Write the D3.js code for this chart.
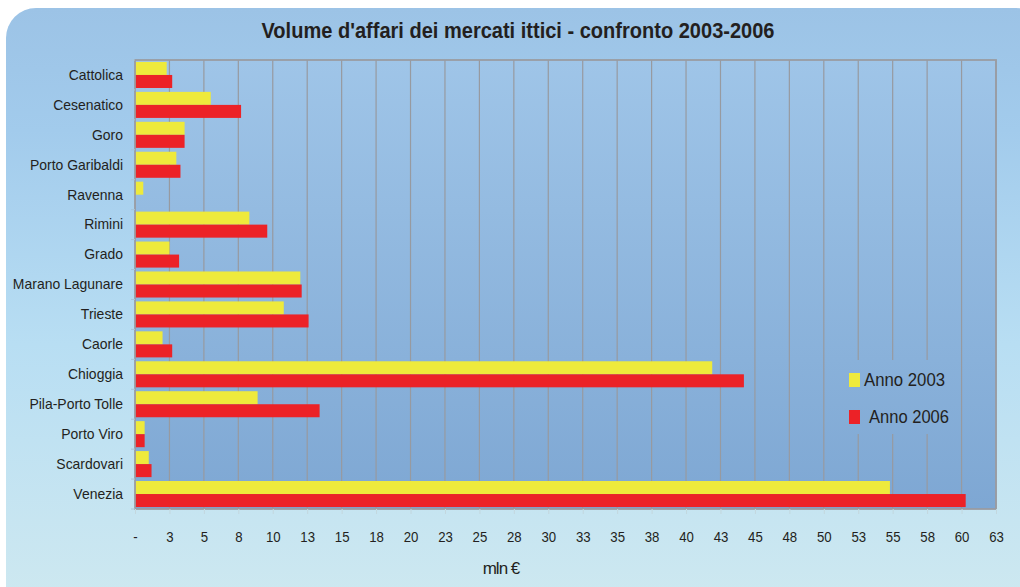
<!DOCTYPE html>
<html><head><meta charset="utf-8">
<script src="https://cdn.jsdelivr.net/npm/d3@7"></script>
<style>body{margin:0;background:#fff}svg{display:block}</style>
</head><body>
<svg id="c" width="1020" height="587"></svg>
<script>
const categories = ["Cattolica","Cesenatico","Goro","Porto Garibaldi","Ravenna","Rimini","Grado","Marano Lagunare","Trieste","Caorle","Chioggia","Pila-Porto Tolle","Porto Viro","Scardovari","Venezia"];
const anno2003 = [2.3,5.5,3.6,3.0,0.6,8.3,2.5,12.0,10.8,2.0,41.9,8.9,0.7,1.0,54.8];
const anno2006 = [2.7,7.7,3.6,3.3,0,9.6,3.2,12.1,12.6,2.7,44.2,13.4,0.7,1.2,60.3];
const seriesNames = ["Anno 2003","Anno 2006"];
const tickValues = d3.range(0, 62.6, 2.5);
const tickLabels = ["-","3","5","8","10","13","15","18","20","23","25","28","30","33","35","38","40","43","45","48","50","53","55","58","60","63"];

const colors = ["#eeea3c","#ec2227"];
const FONT = "'Liberation Sans',Arial,sans-serif";

// condense helper: squeeze text horizontally
function condense(sel, f) {
  sel.each(function(){
    const L = this.getComputedTextLength();
    d3.select(this).attr("textLength", L*f).attr("lengthAdjust","spacingAndGlyphs");
  });
}

const svg = d3.select("#c");
const defs = svg.append("defs");
const pg = defs.append("linearGradient").attr("id","panelG").attr("x1",0).attr("y1",0).attr("x2",0).attr("y2",1);
pg.append("stop").attr("offset",0).attr("stop-color","#9cc3e6");
pg.append("stop").attr("offset",0.2).attr("stop-color","#a2cbec");
pg.append("stop").attr("offset",0.55).attr("stop-color","#b8def3");
pg.append("stop").attr("offset",1).attr("stop-color","#cfe9f0");
const ag = defs.append("linearGradient").attr("id","plotG").attr("gradientUnits","userSpaceOnUse")
  .attr("x1",0).attr("y1",60).attr("x2",0).attr("y2",509);
ag.append("stop").attr("offset",0).attr("stop-color","#9fc5e8");
ag.append("stop").attr("offset",1).attr("stop-color","#7ea7d3");

// panel
svg.append("rect").attr("x",6).attr("y",8).attr("width",1040).attr("height",610)
  .attr("rx",30).attr("ry",30).attr("fill","url(#panelG)");

const m = {left:135, right:996, top:60, bottom:509};
const x = d3.scaleLinear().domain([0,62.5]).range([m.left, m.right]);
const y = d3.scaleBand().domain(categories).range([m.top, m.bottom]).paddingInner(0.13).paddingOuter(0.065);
const y2 = d3.scaleBand().domain(seriesNames).range([0, y.bandwidth()]);

// plot bg
svg.append("rect").attr("x",m.left).attr("y",m.top).attr("width",m.right-m.left).attr("height",m.bottom-m.top)
  .attr("fill","url(#plotG)");

// gridlines
svg.append("g").selectAll("line").data(tickValues.slice(1)).join("line")
  .attr("x1",d=>x(d)).attr("x2",d=>x(d)).attr("y1",m.top).attr("y2",m.bottom)
  .attr("stroke","#979aa0").attr("stroke-width",1.2);

// legend box hiding gridlines
svg.append("rect").attr("x",836).attr("y",360).attr("width",118).attr("height",74).attr("fill","url(#plotG)");

// bars
const g = svg.append("g");
categories.forEach((c,i)=>{
  [anno2003[i], anno2006[i]].forEach((v,j)=>{
    if (v <= 0) return;
    g.append("rect").attr("x",x(0)).attr("y",y(c)+y2(seriesNames[j]))
      .attr("width",x(v)-x(0)).attr("height",y2.bandwidth()).attr("fill",colors[j]);
  });
});

// plot border
svg.append("rect").attr("x",m.left).attr("y",m.top).attr("width",m.right-m.left).attr("height",m.bottom-m.top)
  .attr("fill","none").attr("stroke","#9a9ca2").attr("stroke-width",1.8);

// x axis
const xAxis = d3.axisBottom(x).tickValues(tickValues).tickFormat((d,i)=>tickLabels[i]).tickSize(5).tickPadding(17);
const xa = svg.append("g").attr("transform",`translate(0,${m.bottom})`).call(xAxis);
xa.select(".domain").remove();
xa.selectAll(".tick line").attr("stroke","#c3d7de");
xa.selectAll("text").attr("font-family",FONT).attr("font-size",15).attr("fill","#231f20").call(condense,0.88);

// y axis
const ya = svg.append("g").attr("transform",`translate(${m.left},0)`)
  .call(d3.axisLeft(y).tickSize(0).tickPadding(12));
ya.select(".domain").remove();
ya.selectAll("text").attr("font-family",FONT).attr("font-size",15).attr("fill","#231f20").call(condense,0.93);
// category boundary ticks
svg.append("g").selectAll("line").data(d3.range(categories.length+1)).join("line")
  .attr("x1",m.left-4).attr("x2",m.left)
  .attr("y1",i=>m.top + i*(m.bottom-m.top)/categories.length)
  .attr("y2",i=>m.top + i*(m.bottom-m.top)/categories.length)
  .attr("stroke","#a8c4d8");

// title
svg.append("text").attr("x",518).attr("y",38).attr("text-anchor","middle")
  .attr("font-family",FONT).attr("font-weight","bold").attr("font-size",22).attr("fill","#231f20")
  .attr("textLength",513).attr("lengthAdjust","spacingAndGlyphs")
  .text("Volume d'affari dei mercati ittici - confronto 2003-2006");

// axis title
svg.append("text").attr("x",501).attr("y",574).attr("text-anchor","middle")
  .attr("font-family",FONT).attr("font-size",17).attr("fill","#231f20").attr("letter-spacing","-1")
  .text("mln €");

// legend
const leg = [{n:seriesNames[0], c:colors[0], y:373, tx:864, w:81},{n:seriesNames[1], c:colors[1], y:410, tx:869, w:80}];
leg.forEach(l=>{
  svg.append("rect").attr("x",849).attr("y",l.y).attr("width",11).attr("height",14).attr("fill",l.c);
  svg.append("text").attr("x",l.tx).attr("y",l.y+13).attr("font-family",FONT).attr("font-size",19)
    .attr("fill","#231f20").attr("textLength",l.w).attr("lengthAdjust","spacingAndGlyphs").text(l.n);
});
</script>
</body></html>
